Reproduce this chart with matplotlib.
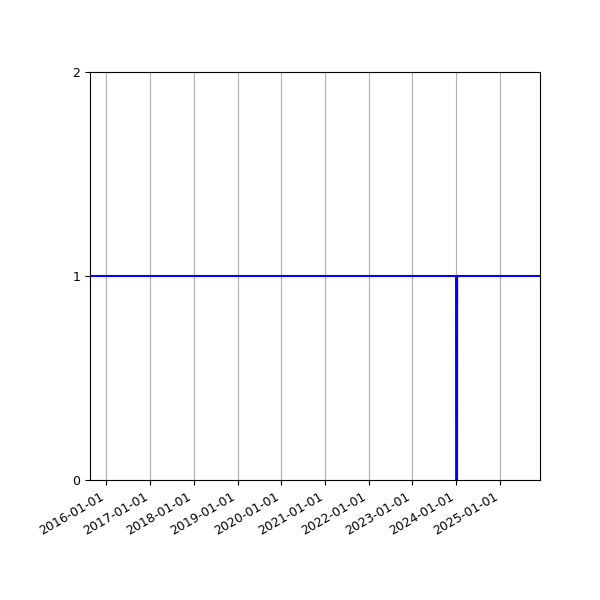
import numpy as np
import pandas as pd
import matplotlib
matplotlib.use('Agg')
import matplotlib.pyplot as plt
import matplotlib.dates as mdates

# data: flat at 1, short drop to 0 at the start of 2024
dates = ['2015-08-18', '2023-12-31', '2024-01-01', '2024-01-08', '2024-01-09', '2025-12-01']
values = [1, 1, 0, 0, 1, 1]

fig, ax = plt.subplots(figsize=(6, 6), dpi=100)

x = pd.to_datetime(dates)
ax.plot(x, values, color='blue', linewidth=1.5)

ax.set_xlim(x[0], x[-1])
ax.set_ylim(0, 2)
ax.set_yticks([0, 1, 2])

ax.xaxis.set_major_locator(mdates.YearLocator())
ax.xaxis.set_major_formatter(mdates.DateFormatter('%Y-%m-%d'))
ax.grid(True, axis='x')
ax.tick_params(labelsize=9)

fig.autofmt_xdate()
fig.subplots_adjust(left=0.15, right=0.9, top=0.88, bottom=0.2)

plt.savefig('out.png', dpi=100)
